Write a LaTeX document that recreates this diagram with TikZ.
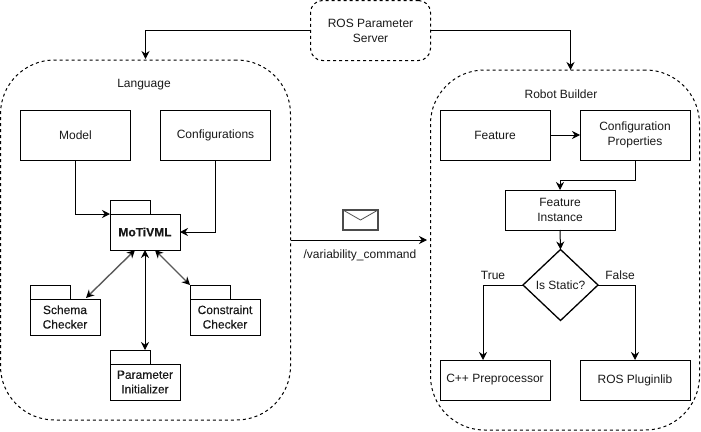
\documentclass[tikz,border=0pt]{standalone}
\usepackage{fontspec}
\setmainfont{Liberation Sans}
\usetikzlibrary{arrows.meta,shapes.geometric,calc}
\tikzset{
  every node/.style={font=\fontsize{12}{15}\selectfont,text=black!90,align=center,inner sep=0pt,outer sep=0pt},
  region/.style={draw,dashed,dash pattern=on 3pt off 3pt,line width=1pt,rounded corners=#1},
  plainbox/.style={draw,line width=1pt,minimum width=110pt,minimum height=50pt},
  pkgbody/.style={draw,line width=1pt,minimum width=70pt,minimum height=36pt,font=\fontsize{12}{14.5}\selectfont\addfontfeatures{FakeBold=0.25}},
  pkgtab/.style={draw,line width=1pt,minimum width=40pt,minimum height=14pt},
  flow/.style={draw,line width=1pt,-{Stealth[length=8pt,width=8pt]}},
  both/.style={draw,line width=1pt,{Stealth[length=8pt,width=8pt]}-{Stealth[length=8pt,width=8pt]}},
  bothdiag/.style={draw=black!65,line width=1.4pt,{Stealth[length=8pt,width=8pt,color=black]}-{Stealth[length=8pt,width=8pt,color=black]}},
  lbl/.style={}
}
\begin{document}
\begin{tikzpicture}[x=1pt,y=-1pt]
\useasboundingbox (0,0) rectangle (701,431);
% regions
\node[region=54pt,minimum width=290pt,minimum height=360pt] (lang) at (145.5,240) {};
\node[region=54pt,minimum width=269pt,minimum height=360pt] (robot) at (565,250) {};
\node[region=12pt,minimum width=120pt,minimum height=60pt] (server) at (370.5,30.5) {ROS Parameter\\Server};
\node[lbl] (langt) at (144,85) {Language};
\node[lbl] (robt) at (561,94) {Robot Builder};
% language
\node[plainbox] (model) at (75.5,135) {Model};
\node[plainbox] (conf) at (215.5,135) {Configurations};
\node[pkgbody] (moti) at (145,232) {\bfseries MoTiVML};
\node[pkgtab] (motitab) at (130,207) {};
\node[pkgbody] (schema) at (65,317) {Schema\\Checker};
\node[pkgtab] (schematab) at (50,292) {};
\node[pkgbody] (constr) at (225,317) {Constraint\\Checker};
\node[pkgtab] (constrtab) at (210,292) {};
\node[pkgbody] (param) at (145,382) {Parameter\\Initializer};
\node[pkgtab] (paramtab) at (130,357) {};
% robot builder
\node[plainbox] (feat) at (495,135) {Feature};
\node[plainbox] (props) at (635,135) {Configuration\\Properties};
\node[plainbox,minimum height=40pt] (inst) at (560,210) {Feature\\Instance};
\node[draw,diamond,line width=1.3pt,minimum width=75pt,minimum height=71pt] (dec) at (560.5,285) {};
\node (dect) at (560.5,285) {Is Static?};
\node[plainbox,minimum height=40pt] (cpp) at (495,380) {C++ Preprocessor};
\node[plainbox,minimum height=40pt] (plug) at (635,380) {ROS Pluginlib};
\node[lbl] (tr) at (493,275) {True};
\node[lbl] (fa) at (620,275) {False};
% message
\node[draw=black!70,line width=1.3pt,minimum width=35pt,minimum height=20pt] (env) at (360.5,220) {};
\draw[draw=black!70,line width=.8pt] (env.north west) -- (env.center) -- (env.north east);
\node[lbl] (vc) at (360,255) {/variability\_command};
\coordinate (msgs) at (291,240);
\coordinate (msge) at (427,240);
% connectors
\draw[flow] (server.west) -| (145.5,59);
\draw[flow] (server.east) -| (570.5,70);
\draw[flow] (model.south) |- (110,214);
\draw[flow] (conf.south) |- (moti.east);
\draw[bothdiag] ($(schema.north)+(21,-1)$) -- ($(moti.south)+(-10,0)$);
\draw[both] ($(param.north)+(0,-14)$) -- (moti.south);
\draw[bothdiag] (190,285) -- ($(moti.south)+(10,0)$);
\draw[flow] (feat.east) -- (props.west);
\draw[flow] (props.south) |- (560,180) -- (inst.north);
\draw[flow] (inst.south) -- (dec.north);
\draw[flow] (dec.west) -| (483,360);
\draw[flow] (dec.east) -| (plug.north);
\draw[flow] (msgs) -- (msge);
\end{tikzpicture}
\end{document}
